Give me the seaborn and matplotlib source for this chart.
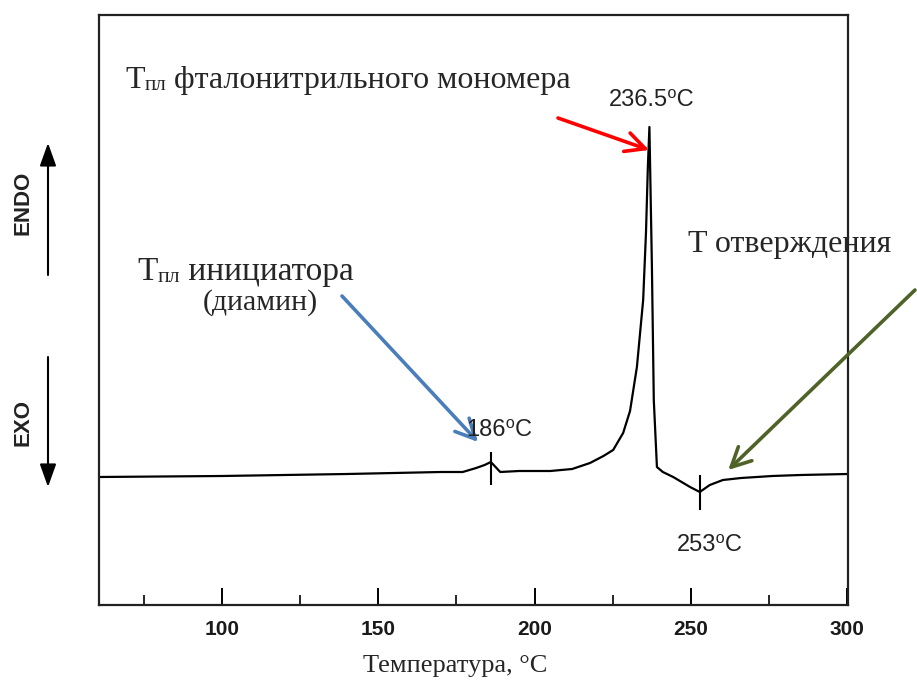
import matplotlib
matplotlib.use("Agg")
import matplotlib.pyplot as plt
import seaborn as sns
import numpy as np
import pandas as pd
from matplotlib.ticker import MultipleLocator

# ---- data (arbitrary heat-flow units) ----
temps = [60.7, 100, 140, 170, 177, 181.3, 184, 186, 187.5, 189, 195, 205, 212,
         217.7, 222, 225.1, 228.3, 230.5, 232.7, 234.7, 235.6, 236.2, 236.7,
         237.5, 238.1, 239.1, 241, 244.3, 249.7, 252.8, 256, 260.2, 266, 276,
         285, 300]
signal = [1.14, 1.15, 1.17, 1.19, 1.19, 1.23, 1.26, 1.29, 1.24, 1.19, 1.20,
          1.20, 1.22, 1.28, 1.35, 1.41, 1.58, 1.80, 2.24, 2.91, 3.58, 4.24,
          4.64, 3.24, 1.91, 1.24, 1.19, 1.14, 1.04, 0.99, 1.06, 1.11, 1.13,
          1.15, 1.16, 1.17]

# event markers (temperature, low, high)
marker_temps = [186, 253]
marker_low = [1.06, 0.81]
marker_high = [1.39, 1.16]

peak_labels = ["186⁰C", "236.5⁰C", "253⁰C"]
xticks_major = [100, 150, 200, 250, 300]

df = pd.DataFrame({"T": temps, "Q": signal})

sns.set_theme(style="white")
plt.rcParams["font.family"] = ["Liberation Sans", "DejaVu Sans"]

W, H = 917, 682
BOTTOM = 605
fig = plt.figure(figsize=(W / 100, H / 100), dpi=100)
ax = fig.add_axes([99 / W, 1 - BOTTOM / H, (848 - 99) / W, (BOTTOM - 15) / H])

sns.lineplot(data=df, x="T", y="Q", ax=ax, color="black", linewidth=1.6,
             sort=True, estimator=None)
ax.vlines(marker_temps, marker_low, marker_high, color="black", linewidth=1.5)

ax.set_xlim(60.7, 300.2)
ax.set_ylim((591 - BOTTOM) / 100, 5.76)
ax.set_xlabel("")
ax.set_ylabel("")
ax.set_yticks([])
ax.set_xticks(xticks_major)
ax.xaxis.set_minor_locator(MultipleLocator(25))
ax.set_xticklabels([str(t) for t in xticks_major], fontsize=15,
                   fontweight="bold", family=["Liberation Sans", "DejaVu Sans"],
                   color="#1a1a1a")
ax.tick_params(axis="x", which="major", direction="in", length=12.5, width=1.4,
               color="black", pad=11, bottom=True)
ax.tick_params(axis="x", which="minor", direction="in", length=7.5, width=1.2,
               color="black", bottom=True)
for s in ax.spines.values():
    s.set_color("#222222")
    s.set_linewidth(1.6)

# peak labels (Arial-like)
sans = ["Liberation Sans", "DejaVu Sans"]
fig.text(499 / W, 1 - 430 / H, peak_labels[0], ha="center", va="center",
         fontsize=17, family=sans, color="#222222")
fig.text(652 / W, 1 - 100 / H, peak_labels[1], ha="center", va="center",
         fontsize=17, family=sans, color="#222222")
fig.text(710 / W, 1 - 545 / H, peak_labels[2], ha="center", va="center",
         fontsize=17, family=sans, color="#222222")

# serif annotation labels
serif = ["Liberation Serif", "DejaVu Serif"]
FS = 23


def t_sub(x, y, rest, size=FS):
    t1 = fig.text(x, y, "T", fontsize=size, family=serif, va="baseline")
    t2 = ax.annotate("пл", xy=(1, 0), xycoords=t1, fontsize=size * 0.66,
                     family=serif, va="bottom", ha="left",
                     annotation_clip=False)
    ax.annotate(rest, xy=(1, 0), xycoords=(t2, t1), fontsize=size,
                family=serif, va="bottom", ha="left", annotation_clip=False)


t_sub(125 / W, 1 - 88 / H, " фталонитрильного мономера")
t_sub(137 / W, 1 - 280 / H, " инициатора", size=24)
fig.text(260 / W, 1 - 303 / H, "(диамин)", fontsize=21.5, family=serif,
         ha="center", va="center")
fig.text(688 / W, 1 - 252 / H, "T отверждения", fontsize=FS, family=serif,
         va="baseline", ha="left")

fig.text(455 / W, 1 - 666 / H, "Температура, °C", fontsize=19, family=serif,
         ha="center", va="center")

# coloured arrows pointing at the events
arrow_kw = dict(arrowstyle="->,head_length=0.7,head_width=0.35",
                mutation_scale=20, linewidth=2.6, shrinkA=0, shrinkB=0)
ax.annotate("", xy=(236.6, 4.41), xycoords="data",
            xytext=(558 / W, 1 - 118 / H), textcoords="figure fraction",
            arrowprops=dict(color="#ff0000", **arrow_kw), annotation_clip=False)
ax.annotate("", xy=(181.9, 1.49), xycoords="data",
            xytext=(342 / W, 1 - 296 / H), textcoords="figure fraction",
            arrowprops=dict(color="#4a7ebb", **arrow_kw), annotation_clip=False)
ax.annotate("", xy=(261.9, 1.21), xycoords="data",
            xytext=(915 / W, 1 - 290 / H), textcoords="figure fraction",
            arrowprops=dict(color="#4f6228", **arrow_kw), annotation_clip=False)

# ENDO / EXO indicators
fig.text(23 / W, 1 - 203 / H, "ENDO", rotation=90, ha="center", va="center",
         fontsize=16, fontweight="bold", family=sans, color="#222222")
fig.text(23 / W, 1 - 422 / H, "EXO", rotation=90, ha="center", va="center",
         fontsize=16, fontweight="bold", family=sans, color="#222222")
endo_kw = dict(arrowstyle="-|>,head_length=0.7,head_width=0.25",
               mutation_scale=20, linewidth=1.5, color="black",
               shrinkA=0, shrinkB=0)
fig.add_artist(matplotlib.patches.FancyArrowPatch(
    (48 / W, 1 - 275 / H), (48 / W, 1 - 143 / H), transform=fig.transFigure,
    **endo_kw))
fig.add_artist(matplotlib.patches.FancyArrowPatch(
    (48 / W, 1 - 357 / H), (48 / W, 1 - 487 / H), transform=fig.transFigure,
    **endo_kw))

fig.savefig("out.png", dpi=100)
